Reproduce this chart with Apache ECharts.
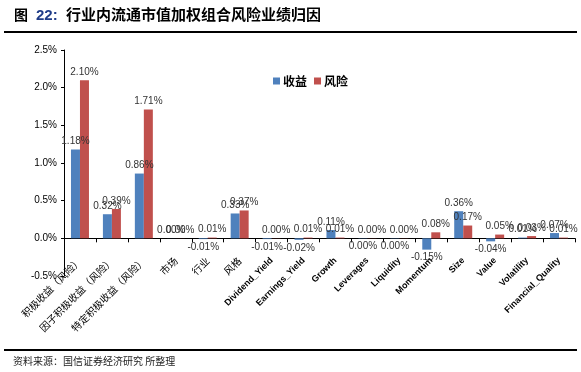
<!DOCTYPE html>
<html><head><meta charset="utf-8">
<script src="https://cdn.jsdelivr.net/npm/echarts@6/dist/echarts.min.js"></script>
<style>html,body{margin:0;padding:0;background:#fff;}#c{width:581px;height:372px;}</style>
</head><body><div id="c"></div>
<script>
const categories = ['积极收益（风险）','因子积极收益（风险）','特定积极收益（风险）','市场','行业','风格','Dividend_Yield','Earnings_Yield','Growth','Leverages','Liquidity','Momentum','Size','Value','Volatility','Financial_Quality'];
const returnVals = [1.18, 0.32, 0.86, 0.001, -0.01, 0.33, -0.01, -0.02, 0.11, -0.004, -0.004, -0.15, 0.36, -0.04, 0.01, 0.07];
const riskVals = [2.10, 0.39, 1.71, 0.001, 0.01, 0.37, 0.002, 0.01, 0.01, 0.002, 0.002, 0.08, 0.17, 0.05, 0.03, 0.01];
const seriesNames = ['收益','风险'];
const yTicks = {min:-0.5, max:2.5, interval:0.5};

function fmt(v){ let s=v.toFixed(2); if (s==='-0.00') s='0.00'; return s+'%'; }
function mk(vals){
  return vals.map(v=>({value:v, label:{position: v<0?'bottom':'top'}}));
}
const chart = echarts.init(document.getElementById('c'));
chart.setOption({
  animation:false,
  textStyle:{fontFamily:'Liberation Sans, Arial, sans-serif'},
  grid:{left:64, right:6, top:50, bottom:96, containLabel:false},
  legend:{left:273, top:75, padding:0, itemWidth:7, itemHeight:7, itemGap:7, icon:'rect',
    textStyle:{fontSize:12, fontWeight:'bold', color:'#000', fontFamily:'Noto Sans CJK SC', padding:[0,0,0,-2]},
    data:seriesNames},
  xAxis:{type:'category', data:categories,
    axisLine:{onZero:true, lineStyle:{color:'#000', width:1}},
    axisTick:{show:true, length:4, lineStyle:{color:'#000'}},
    axisLabel:{rotate:45, margin:-17, interval:0, color:'#000',
      formatter:function(v){ return /[A-Za-z]/.test(v) ? '{e|'+v+'}' : '{c|'+v+'}'; },
      rich:{e:{fontSize:9, fontWeight:'bold', fontFamily:'Liberation Sans, Arial', color:'#000'},
            c:{fontSize:10, fontFamily:'Noto Sans CJK SC', color:'#000'}}}
  },
  yAxis:{type:'value', min:yTicks.min, max:yTicks.max, interval:yTicks.interval,
    axisLine:{show:true, lineStyle:{color:'#000'}},
    axisTick:{show:true, length:3, lineStyle:{color:'#000'}},
    splitLine:{show:false},
    axisLabel:{fontSize:10, color:'#000', margin:7, formatter:v=>v.toFixed(1)+'%'}
  },
  series:[
    {name:seriesNames[0], type:'bar', data:mk(returnVals), barWidth:9, barGap:'0%',
     itemStyle:{color:'#4F81BD'},
     label:{show:true, fontSize:10, color:'#333', distance:3, formatter:p=>fmt(p.value)}},
    {name:seriesNames[1], type:'bar', data:mk(riskVals), barWidth:9, barGap:'0%',
     itemStyle:{color:'#C0504D'},
     label:{show:true, fontSize:10, color:'#333', distance:3, formatter:p=>fmt(p.value)}}
  ],
  graphic:[
    {type:'text', left:14, top:8, style:{text:'图', fontSize:14, fontWeight:'bold', fill:'#000', fontFamily:'Noto Sans CJK SC'}},
    {type:'text', left:36, top:8, style:{text:'22:', fontSize:15, fontWeight:'bold', fill:'#1F3C88', fontFamily:'Liberation Sans, Arial'}},
    {type:'text', left:66, top:7, style:{text:'行业内流通市值加权组合风险业绩归因', fontSize:15, fontWeight:'bold', fill:'#000', fontFamily:'Noto Sans CJK SC'}},
    {type:'rect', shape:{x:4, y:31, width:573, height:2}, style:{fill:'#000'}},
    {type:'rect', shape:{x:4, y:349, width:573, height:2}, style:{fill:'#000'}},
    {type:'text', left:13, top:356, style:{text:'资料来源：国信证券经济研究 所整理', fontSize:10, fill:'#222', fontFamily:'Noto Sans CJK SC'}}
  ]
});
</script></body></html>
